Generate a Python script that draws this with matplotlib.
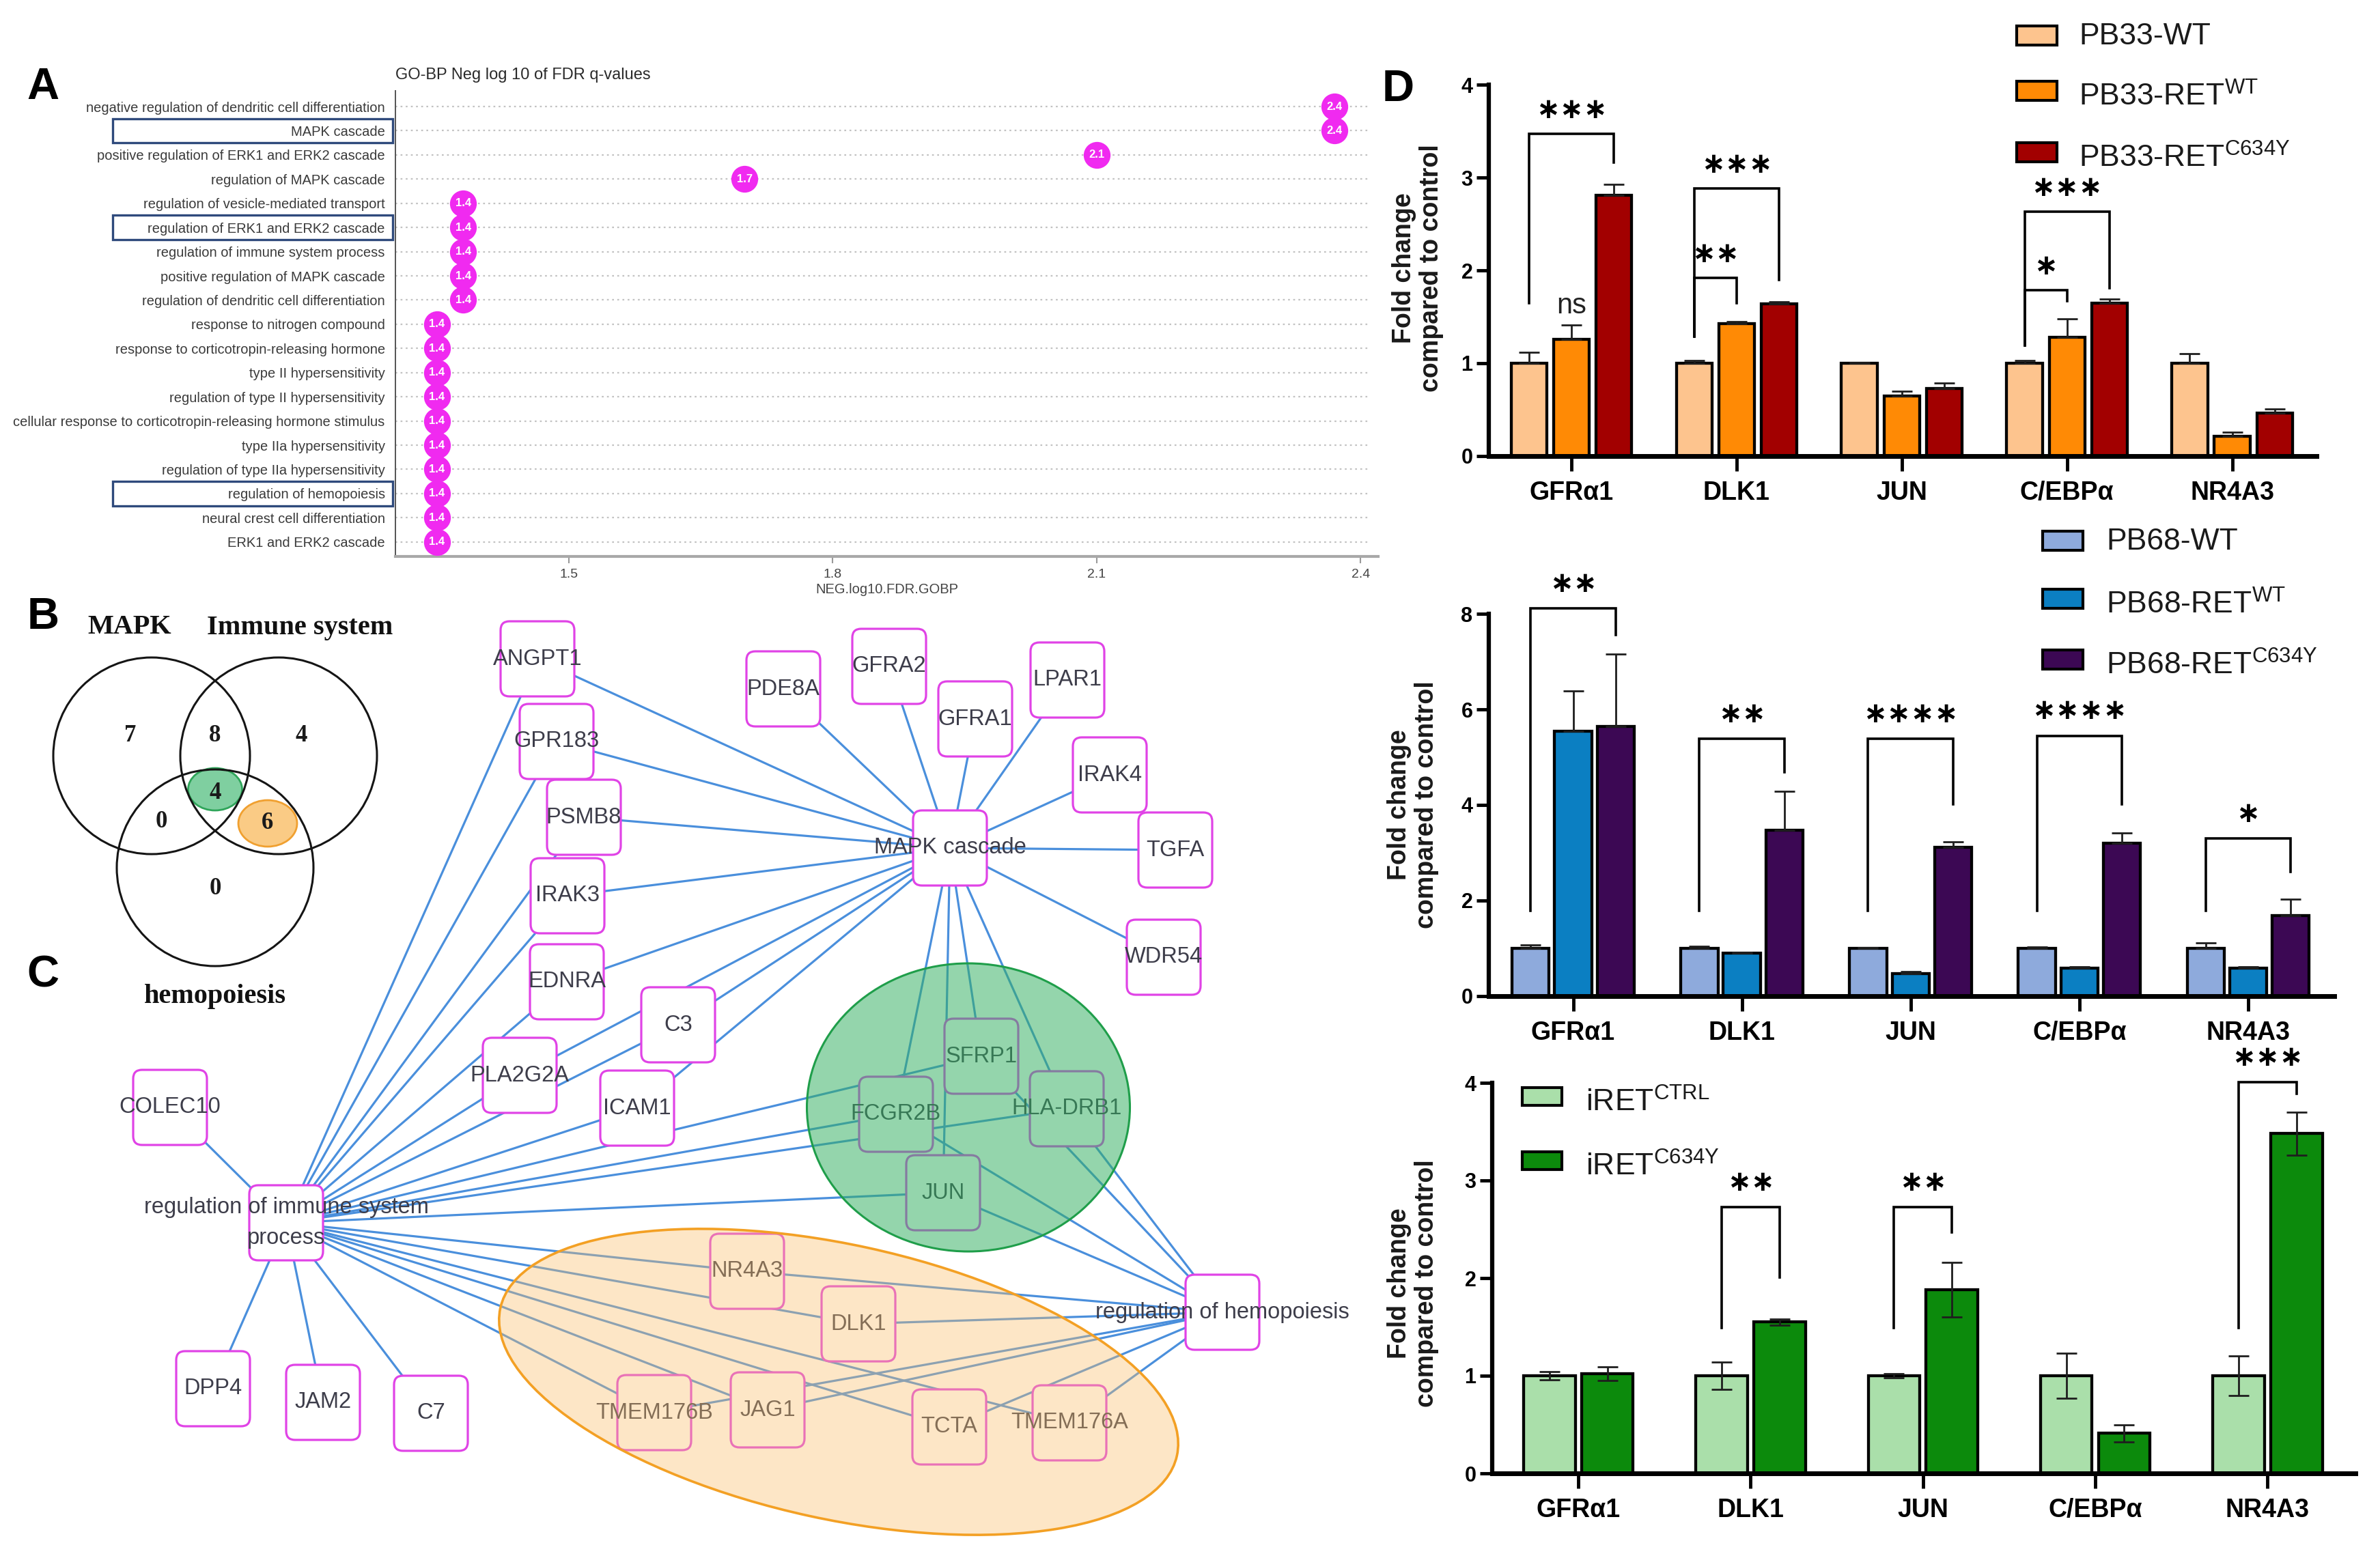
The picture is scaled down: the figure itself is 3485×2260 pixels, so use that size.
import numpy as np
import matplotlib
matplotlib.use("Agg")
import matplotlib.pyplot as plt
from matplotlib.patches import Rectangle, Ellipse, Circle, FancyBboxPatch
import matplotlib.transforms as mtransforms

plt.rcParams["font.family"] = ["Liberation Sans", "DejaVu Sans"]
plt.rcParams["mathtext.fontset"] = "custom"
plt.rcParams["mathtext.rm"] = "Liberation Sans"
plt.rcParams["mathtext.it"] = "Liberation Sans:italic"
plt.rcParams["mathtext.bf"] = "Liberation Sans:bold"

# ======================= DATA =======================
# Panel A : GO-BP enrichment
go_terms = [
    "negative regulation of dendritic cell differentiation",
    "MAPK cascade",
    "positive regulation of ERK1 and ERK2 cascade",
    "regulation of MAPK cascade",
    "regulation of vesicle-mediated transport",
    "regulation of ERK1 and ERK2 cascade",
    "regulation of immune system process",
    "positive regulation of MAPK cascade",
    "regulation of dendritic cell differentiation",
    "response to nitrogen compound",
    "response to corticotropin-releasing hormone",
    "type II hypersensitivity",
    "regulation of type II hypersensitivity",
    "cellular response to corticotropin-releasing hormone stimulus",
    "type IIa hypersensitivity",
    "regulation of type IIa hypersensitivity",
    "regulation of hemopoiesis",
    "neural crest cell differentiation",
    "ERK1 and ERK2 cascade",
]
go_neglog10_fdr = [2.37, 2.37, 2.10, 1.70, 1.38, 1.38, 1.38, 1.38, 1.38,
                   1.35, 1.35, 1.35, 1.35, 1.35, 1.35, 1.35, 1.35, 1.35, 1.35]
go_highlight = ["MAPK cascade", "regulation of ERK1 and ERK2 cascade",
                "regulation of hemopoiesis"]
go_xticks = [1.5, 1.8, 2.1, 2.4]

# Panels B / C : gene sets
set_names = ["MAPK", "Immune system", "hemopoiesis"]
hub_names = ["MAPK cascade", "regulation of immune system process",
             "regulation of hemopoiesis"]
genes_mapk_only = ["PDE8A", "GFRA2", "GFRA1", "LPAR1", "IRAK4", "TGFA", "WDR54"]
genes_mapk_immune = ["ANGPT1", "GPR183", "PSMB8", "IRAK3", "EDNRA", "PLA2G2A", "C3", "ICAM1"]
genes_all_three = ["SFRP1", "FCGR2B", "HLA-DRB1", "JUN"]
genes_immune_only = ["COLEC10", "DPP4", "JAM2", "C7"]
genes_immune_hemo = ["NR4A3", "DLK1", "TMEM176B", "JAG1", "TCTA", "TMEM176A"]
genes_mapk_hemo = []
genes_hemo_only = []

# Panel D : qPCR fold change
genes = ["GFRα1", "DLK1", "JUN", "C/EBPα", "NR4A3"]

pb33_labels = ["PB33-WT", r"PB33-RET$^{\mathrm{WT}}$", r"PB33-RET$^{\mathrm{C634Y}}$"]
pb33_wt = [1.00, 1.00, 1.00, 1.00, 1.00]
pb33_wt_err = [0.12, 0.03, 0.01, 0.03, 0.10]
pb33_retwt = [1.26, 1.43, 0.65, 1.28, 0.21]
pb33_retwt_err = [0.15, 0.02, 0.05, 0.20, 0.05]
pb33_c634y = [2.81, 1.64, 0.73, 1.65, 0.46]
pb33_c634y_err = [0.12, 0.02, 0.06, 0.04, 0.05]
# (gene, bar a, bar b, bracket top, left end, right end, label)
pb33_sig = [(0, 0, 2, 3.47, 1.65, 3.16, "***"),
            (1, 0, 2, 2.88, 1.29, 1.90, "***"),
            (1, 0, 1, 1.92, 1.29, 1.65, "**"),
            (3, 0, 2, 2.63, 1.19, 1.81, "***"),
            (3, 0, 1, 1.785, 1.19, 1.67, "*")]
pb33_ns = [(0, 1, 1.54, "ns")]

pb68_labels = ["PB68-WT", r"PB68-RET$^{\mathrm{WT}}$", r"PB68-RET$^{\mathrm{C634Y}}$"]
pb68_wt = [1.00, 1.00, 1.00, 1.00, 1.00]
pb68_wt_err = [0.07, 0.05, 0.02, 0.03, 0.12]
pb68_retwt = [5.55, 0.90, 0.47, 0.58, 0.58]
pb68_retwt_err = [0.84, 0.01, 0.04, 0.03, 0.04]
pb68_c634y = [5.64, 3.47, 3.12, 3.20, 1.68]
pb68_c634y_err = [1.52, 0.82, 0.11, 0.21, 0.35]
pb68_sig = [(0, 0, 2, 8.11, 1.79, 7.56, "**"),
            (1, 0, 2, 5.38, 1.79, 4.68, "**"),
            (2, 0, 2, 5.38, 1.79, 4.02, "****"),
            (3, 0, 2, 5.45, 1.79, 4.02, "****"),
            (4, 0, 2, 3.30, 1.79, 2.60, "*")]

iret_labels = [r"iRET$^{\mathrm{CTRL}}$", r"iRET$^{\mathrm{C634Y}}$"]
iret_ctrl = [1.00, 1.00, 1.00, 1.00, 1.00]
iret_ctrl_err = [0.04, 0.14, 0.02, 0.23, 0.20]
iret_c634y = [1.02, 1.55, 1.88, 0.41, 3.48]
iret_c634y_err = [0.07, 0.03, 0.28, 0.09, 0.22]
iret_sig = [(1, 0, 1, 2.73, 1.49, 2.01, "**"),
            (2, 0, 1, 2.73, 1.49, 2.47, "**"),
            (4, 0, 1, 4.01, 1.49, 3.89, "***")]

# ======================= LAYOUT / STYLE =======================
W, H = 3485, 2260
fig = plt.figure(figsize=(W / 100, H / 100), dpi=100)
fig.patch.set_facecolor("white")


def fr(x0, y0, x1, y1):
    return [x0 / W, 1 - y1 / H, (x1 - x0) / W, (y1 - y0) / H]


# full-figure pixel canvas for Venn, network, legends, letters
axn = fig.add_axes([0, 0, 1, 1])
axn.set_xlim(0, W)
axn.set_ylim(H, 0)
axn.axis("off")
axn.patch.set_alpha(0)

# ---------------- Panel A ----------------
axA = fig.add_axes(fr(579, 133, 2018, 815))
axA.patch.set_alpha(0)
nrow = len(go_terms)
rows = np.arange(nrow)
axA.set_xlim(1.303, 2.42)
axA.set_ylim(nrow - 1 + 0.6, -0.65)
axA.hlines(rows, 1.303, 2.41, colors="#c2c2c2", linestyles=(0, (1.2, 2.2)),
           linewidth=1.6, zorder=1)
axA.scatter(go_neglog10_fdr, rows, s=800, color="#f02af0", zorder=3, linewidths=0)
for v, r in zip(go_neglog10_fdr, rows):
    axA.text(v, r, f"{v:.1f}", color="white", fontsize=12, fontweight="bold",
             ha="center", va="center", zorder=4)
axA.set_yticks(rows)
axA.set_yticklabels(go_terms, fontsize=14.5, color="#3a3a3a")
axA.tick_params(axis="y", length=0, pad=11)
axA.set_xticks(go_xticks)
axA.set_xticklabels([f"{t:.1f}" for t in go_xticks], fontsize=14, color="#444444")
axA.tick_params(axis="x", length=7, color="#9a9a9a", width=1.5, pad=6)
for s in ["top", "right"]:
    axA.spines[s].set_visible(False)
axA.spines["left"].set_color("#555555")
axA.spines["left"].set_linewidth(1.4)
axA.spines["bottom"].set_color("#a8a8a8")
axA.spines["bottom"].set_linewidth(3)
axA.set_xlabel("NEG.log10.FDR.GOBP", fontsize=14.5, color="#444444", labelpad=3)
axA.text(0, 1.033, "GO-BP Neg log 10 of FDR q-values", transform=axA.transAxes,
         ha="left", va="center", fontsize=17, color="#2a2a2a")
trans = mtransforms.blended_transform_factory(axn.transData, axA.transData)
for t in go_highlight:
    i = go_terms.index(t)
    axA.add_patch(Rectangle((165, i - 0.5), 410, 1.0, transform=trans, fill=False,
                            ec="#2f4a7c", lw=2.4, clip_on=False, zorder=5))

# ---------------- Panel B : Venn ----------------
venn_centers = [(222, 1107), (408, 1107), (315, 1271)]
venn_r = 144
for (cx, cy) in venn_centers:
    axn.add_patch(Circle((cx, cy), venn_r, fill=False, ec="#151515", lw=2.2, zorder=2))
venn_label_pos = [(190, 919), (439, 919), (315, 1459)]
for name, (x, y) in zip(set_names, venn_label_pos):
    axn.text(x, y, name, ha="center", va="center", fontsize=29, fontweight="bold",
             family=["Liberation Serif", "DejaVu Serif"], color="#111111")
venn_regions = [
    (genes_mapk_only, (191, 1078)),
    (genes_mapk_immune, (315, 1078)),
    (genes_immune_only, (441, 1078)),
    (genes_all_three, (315, 1161)),
    (genes_mapk_hemo, (236, 1204)),
    (genes_immune_hemo, (392, 1206)),
    (genes_hemo_only, (315, 1302)),
]
axn.add_patch(Ellipse((315, 1156), 79, 62, fc=(0.33, 0.75, 0.50, 0.75),
                      ec="#2fa55a", lw=2, zorder=1))
axn.add_patch(Ellipse((392, 1206), 86, 68, fc=(0.98, 0.76, 0.44, 0.85),
                      ec="#f0a030", lw=2, zorder=1))
for members, (x, y) in venn_regions:
    axn.text(x, y, str(len(members)), ha="center", va="center", fontsize=25,
             fontweight="bold", family=["Liberation Serif", "DejaVu Serif"],
             color="#1a1a1a", zorder=3)

# ---------------- Panel C : network ----------------
node_xy = {
    "ANGPT1": (787, 965), "GPR183": (815, 1086), "PSMB8": (855, 1197),
    "IRAK3": (831, 1312), "EDNRA": (830, 1438), "C3": (993, 1501),
    "PLA2G2A": (761, 1575), "ICAM1": (933, 1623),
    "PDE8A": (1147, 1009), "GFRA2": (1302, 976), "GFRA1": (1428, 1053),
    "LPAR1": (1563, 996), "IRAK4": (1625, 1135), "TGFA": (1721, 1245),
    "WDR54": (1704, 1402),
    "SFRP1": (1437, 1547), "FCGR2B": (1312, 1632), "HLA-DRB1": (1562, 1624),
    "JUN": (1381, 1747),
    "COLEC10": (249, 1622), "DPP4": (312, 2034), "JAM2": (473, 2054), "C7": (631, 2070),
    "NR4A3": (1094, 1862), "DLK1": (1257, 1939), "TMEM176B": (958, 2069),
    "JAG1": (1124, 2065), "TCTA": (1390, 2090), "TMEM176A": (1566, 2084),
    "MAPK cascade": (1391, 1242),
    "regulation of immune system process": (419, 1791),
    "regulation of hemopoiesis": (1790, 1922),
}
hub_text = {"MAPK cascade": "MAPK cascade",
            "regulation of immune system process": "regulation of immune system\nprocess",
            "regulation of hemopoiesis": "regulation of hemopoiesis"}
membership = {
    "MAPK cascade": genes_mapk_only + genes_mapk_immune + genes_all_three + genes_mapk_hemo,
    "regulation of immune system process": genes_mapk_immune + genes_all_three
    + genes_immune_only + genes_immune_hemo,
    "regulation of hemopoiesis": genes_all_three + genes_immune_hemo + genes_mapk_hemo
    + genes_hemo_only,
}
for hub in hub_names:
    hx, hy = node_xy[hub]
    for g in membership[hub]:
        gx, gy = node_xy[g]
        axn.plot([hx, gx], [hy, gy], color="#4a8fdc", lw=2.3, zorder=4,
                 solid_capstyle="round")
bw, bh = 108, 110
for name, (x, y) in node_xy.items():
    axn.add_patch(FancyBboxPatch((x - bw / 2, y - bh / 2), bw, bh,
                                 boxstyle="round,pad=0,rounding_size=13",
                                 fc="white", ec="#e043e6", lw=2.3, zorder=5))
    label = hub_text.get(name, name)
    axn.text(x, y, label, ha="center", va="center", fontsize=23.5, color="#3d3d4a",
             zorder=6, linespacing=1.6)
axn.add_patch(Ellipse((1418, 1622), 473, 422, fc=(0.20, 0.69, 0.38, 0.52),
                      ec="#1f9e4a", lw=2.2, zorder=7))
axn.add_patch(Ellipse((1228, 2024), 1014, 402, angle=12.3, fc=(0.98, 0.75, 0.42, 0.38),
                      ec="#f3a024", lw=2.6, zorder=7))

# ---------------- Panel D : bar charts ----------------


def bar_panel(rect, series, errs, colors, offsets, width, ymax, yticks, both,
              sig, star_off, ns=None):
    ax = fig.add_axes(rect)
    ax.patch.set_alpha(0)
    x = np.arange(len(genes))
    for vals, e, c, off in zip(series, errs, colors, offsets):
        ax.bar(x + off, vals, width, color=c, edgecolor="black", linewidth=3.1, zorder=2)
        lo = np.array(e) if both else np.zeros(len(e))
        ax.errorbar(x + off, vals, yerr=[lo, e], fmt="none", ecolor="#1e1e1e",
                    elinewidth=2.0, capsize=11, capthick=2.0, zorder=3)
    for g, a, b, top, ya, yb, lab in sig:
        xa, xb = g + offsets[a], g + offsets[b]
        ax.plot([xa, xa, xb, xb], [ya, top, top, yb], color="black", lw=2.6,
                clip_on=False, zorder=4, solid_joinstyle="miter")
        ax.text((xa + xb) / 2, top + star_off, "∗" * len(lab), ha="center", va="center",
                fontsize=30, fontweight="bold", family=["DejaVu Sans"], clip_on=False)
    if ns:
        for g, a, y, lab in ns:
            ax.text(g + offsets[a], y, lab, ha="center", va="baseline", fontsize=30,
                    color="#222222")
    ax.set_xlim(-0.5, 4.51)
    ax.set_ylim(0, ymax)
    ax.set_yticks(yticks)
    ax.set_yticklabels([str(t) for t in yticks], fontsize=22, fontweight="bold")
    ax.set_xticks(x)
    ax.set_xticklabels(genes, fontsize=27, fontweight="bold")
    for s in ["top", "right"]:
        ax.spines[s].set_visible(False)
    ax.spines["left"].set_linewidth(4.5)
    ax.spines["bottom"].set_linewidth(5)
    ax.tick_params(axis="y", length=13, width=3.5, pad=4)
    ax.tick_params(axis="x", length=16, width=3.5, pad=10)
    return ax


off3 = [-0.257, 0.0, 0.257]
bar_panel(fr(2180, 124, 3392, 668),
          [pb33_wt, pb33_retwt, pb33_c634y],
          [pb33_wt_err, pb33_retwt_err, pb33_c634y_err],
          ["#fdc48e", "#ff8a05", "#a20000"], off3, 0.216, 4, [0, 1, 2, 3, 4],
          False, pb33_sig, 0.26, ns=pb33_ns)
bar_panel(fr(2180, 899, 3418, 1459),
          [pb68_wt, pb68_retwt, pb68_c634y],
          [pb68_wt_err, pb68_retwt_err, pb68_c634y_err],
          ["#8eaadc", "#0b7fc2", "#3c0854"], [-0.252, 0.0, 0.252], 0.22, 8,
          [0, 2, 4, 6, 8], False, pb68_sig, 0.52)
bar_panel(fr(2185, 1586, 3449, 2158),
          [iret_ctrl, iret_c634y],
          [iret_ctrl_err, iret_c634y_err],
          ["#aadfaa", "#0c8a0c"], [-0.168, 0.168], 0.30, 4, [0, 1, 2, 3, 4],
          True, iret_sig, 0.25)

# y labels
for (cx, cy) in [(2076, 393), (2069, 1179), (2069, 1880)]:
    axn.text(cx, cy, "Fold change\ncompared to control", rotation=90, ha="center",
             va="center", fontsize=27, fontweight="bold", color="#1a1a1a",
             multialignment="center", linespacing=1.15)

# legends


def legend(labels, colors, px, ys, tx, rw=59, rh=28):
    for lab, c, y in zip(labels, colors, ys):
        axn.add_patch(Rectangle((px - rw / 2, y - rh / 2), rw, rh, fc=c, ec="black",
                                lw=3, zorder=8))
        dy = 22 if "$" in lab else 13
        axn.text(tx, y + dy, lab, ha="left", va="baseline", fontsize=32,
                 color="#1a1a1a", zorder=8)


legend(pb33_labels, ["#fdc48e", "#ff8a05", "#a20000"], 2982, [52, 133, 223], 3044)
legend(pb68_labels, ["#8eaadc", "#0b7fc2", "#3c0854"], 3020, [792, 877, 966], 3084)
legend(iret_labels, ["#aadfaa", "#0c8a0c"], 2258, [1606, 1700], 2322, rw=58, rh=26)

# panel letters
for letter, (x, y) in zip("ABCD", [(63, 128), (63, 904), (63, 1428), (2047, 131)]):
    axn.text(x, y, letter, ha="center", va="center", fontsize=47, fontweight="bold",
             color="black")

fig.savefig("out.png", dpi=100, facecolor="white")
